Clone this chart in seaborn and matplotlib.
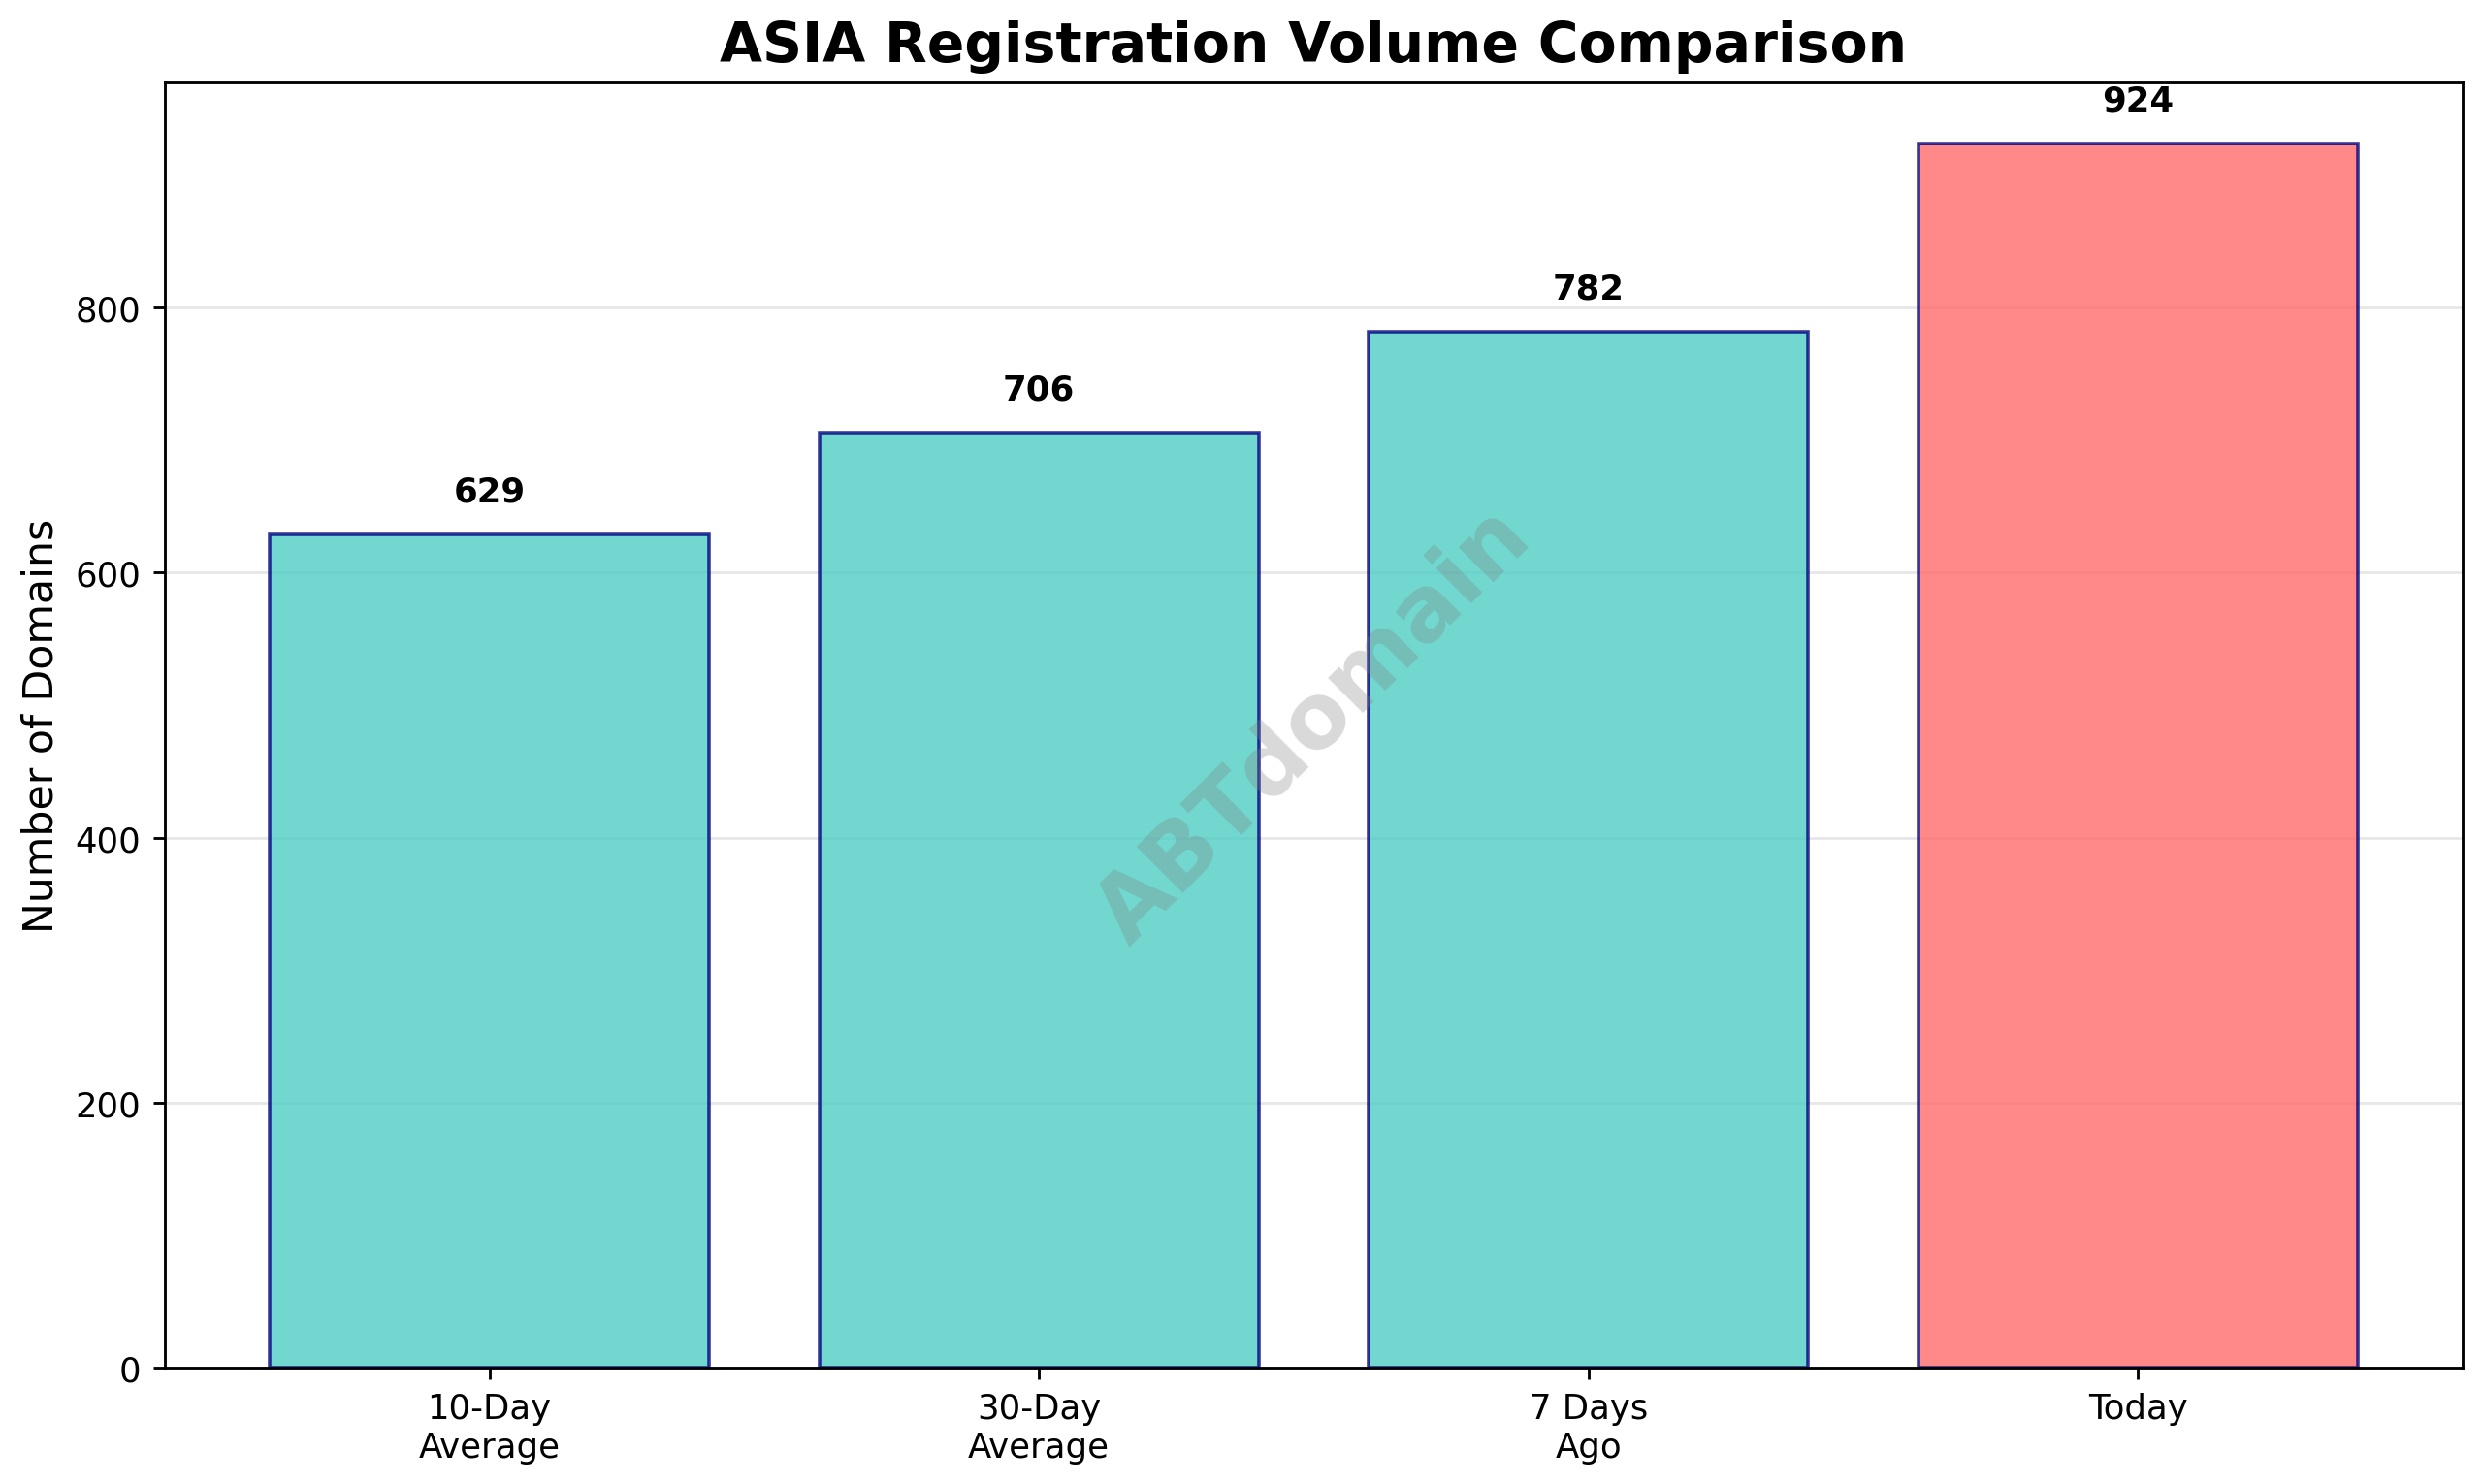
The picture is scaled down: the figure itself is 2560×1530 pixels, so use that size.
import matplotlib
matplotlib.use("Agg")
import matplotlib.pyplot as plt
import seaborn as sns
import pandas as pd

categories = ["10-Day\nAverage", "30-Day\nAverage", "7 Days\nAgo", "Today"]
values = [629, 706, 782, 924]
colors = ["#4ECDC4", "#4ECDC4", "#4ECDC4", "#FF6B6B"]

df = pd.DataFrame({"cat": categories, "val": values})
fig, ax = plt.subplots(figsize=(10, 5.98), dpi=256)
sns.barplot(data=df, x="cat", y="val", hue="cat", palette=colors, legend=False,
            ax=ax, width=0.8, alpha=0.8, edgecolor="navy", linewidth=1, saturation=1)
for i, v in enumerate(values):
    ax.text(i, v + 20, str(v), ha="center", va="bottom", fontweight="bold", fontsize=10)
ax.set_xlim(-0.59, 3.59)
ax.set_ylim(0, 970)
ax.set_title("ASIA Registration Volume Comparison", fontsize=16, fontweight="bold")
ax.set_ylabel("Number of Domains", fontsize=12)
ax.set_xlabel("")
ax.grid(axis="y", alpha=0.3)
ax.set_axisbelow(True)
ax.text(0.5, 0.5, "ABTdomain", transform=ax.transAxes, fontsize=26, color="gray",
        alpha=0.3, rotation=45, ha="center", va="center", fontweight="bold")
plt.tight_layout(pad=0.6)
plt.savefig("out.png")
